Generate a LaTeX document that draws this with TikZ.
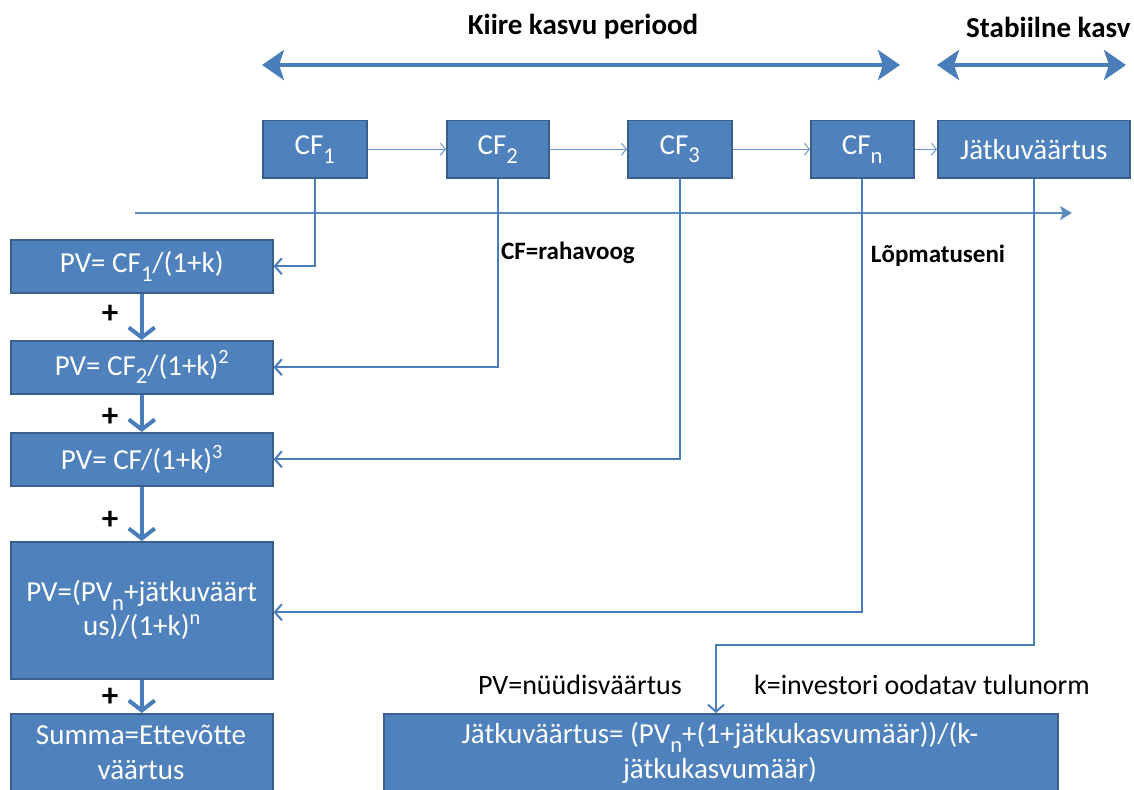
\documentclass[tikz,border=0pt]{standalone}
\usepackage{fontspec}
\setmainfont{Carlito}
\usetikzlibrary{arrows.meta}
\definecolor{boxfill}{HTML}{4F81BD}
\definecolor{boxline}{HTML}{3A5F8B}
\definecolor{linec}{HTML}{4A7EBB}
\newcommand{\fs}[2][35]{\fontsize{#2}{#1}\selectfont}
\newcommand{\sbs}[1]{\raisebox{-0.3em}{\scalebox{0.78}{#1}}}
\newcommand{\sps}[1]{\raisebox{0.38em}{\scalebox{0.7}{#1}}}
\tikzset{
  box/.style={draw=boxline, fill=boxfill, line width=1.5pt, text=white,
    inner sep=0pt, align=center, anchor=north west, font=\fs{29}},
  boxtext/.style={text=white, align=center, inner sep=0pt, font=\fs{29}},
  period/.style={draw=linec, line width=4pt,
    {Stealth[length=22pt,width=30pt,inset=5pt]}-{Stealth[length=22pt,width=30pt,inset=5pt]}},
  sumarrow/.style={draw=linec, line width=4pt,
    -{Straight Barb[length=10pt,width=26pt,line width=4pt]}},
  feed/.style={draw=linec, line width=2pt,
    -{Straight Barb[length=7pt,width=16pt,line width=2pt]}},
  step arrow/.style={draw=linec!80, line width=1pt,
    -{Straight Barb[length=5pt,width=12pt,line width=1pt]}},
  timeline/.style={draw=linec!90, line width=2pt,
    -{Stealth[length=12pt,width=14pt,inset=3pt]}},
  note/.style={inner sep=0pt, text=black, font=\fs{28}},
  notebold/.style={inner sep=0pt, text=black, font=\fs{25}\bfseries},
  plus/.style={inner sep=0pt, text=black, font=\fs{33}\bfseries},
}
\begin{document}
\begin{tikzpicture}[x=1pt,y=-1pt]
\useasboundingbox (0,0) rectangle (1134,789);
\clip (0,0) rectangle (1134,789);
\fill[white] (0,0) rectangle (1134,789);

% period headings and span arrows
\node[inner sep=0pt, font=\fs{29}\bfseries] (tfast) at (583,27) {Kiire kasvu periood};
\node[inner sep=0pt, font=\fs{29}\bfseries, anchor=west] (tstable) at (966,27) {Stabiilne kasv};
\coordinate (pa0) at (262,65);
\coordinate (pa1) at (900,65);
\coordinate (pb0) at (937,65);
\coordinate (pb1) at (1126,65);
\draw[period] (pa0) -- (pa1);
\draw[period] (pb0) -- (pb1);

% cash flow boxes
\node[box, minimum width=104pt, minimum height=57pt] (cf1) at (262,120) {CF\sbs{1}};
\node[box, minimum width=102pt, minimum height=57pt] (cf2) at (446,120) {CF\sbs{2}};
\node[box, minimum width=104pt, minimum height=57pt] (cf3) at (627,120) {CF\sbs{3}};
\node[box, minimum width=103pt, minimum height=57pt] (cfn) at (810,120) {CF\sbs{n}};
\node[box, minimum width=192pt, minimum height=57pt] (jk) at (937,120) {Jätkuväärtus};

\draw[step arrow] (cf1) -- (cf2);
\draw[step arrow] (cf2) -- (cf3);
\draw[step arrow] (cf3) -- (cfn);
\draw[step arrow] (cfn) -- (jk);

% time axis
\coordinate (t0) at (135,213);
\coordinate (t1) at (1072,213);
\draw[timeline] (t0) -- (t1);

% present value boxes
\node[box, minimum width=262pt, minimum height=53pt] (pv1) at (10,239) {PV= CF\sbs{1}/(1+k)};
\node[box, minimum width=262pt, minimum height=53pt] (pv2) at (10,340) {PV= CF\sbs{2}/(1+k)\sps{2}};
\node[box, minimum width=262pt, minimum height=53pt] (pv3) at (10,432) {PV= CF/(1+k)\sps{3}};
\node[box, minimum width=262pt, minimum height=137pt, font={\fontsize{29}{34}\selectfont}] (pv4) at (10,541) {PV=(PV\sbs{n}+jätkuväärt\\us)/(1+k)\sps{n}};
\node[box, minimum width=262pt, minimum height=82pt] (sum) at (10,713) {};
\node[boxtext] (sumt) at (141,752) {Summa=Ettevõtte\\väärtus};

\draw[sumarrow] (pv1) -- (pv2);
\draw[sumarrow] (pv2) -- (pv3);
\draw[sumarrow] (pv3) -- (pv4);
\draw[sumarrow] (pv4) -- (sum);

\node[plus] (p1) at (110,314) {+};
\node[plus] (p2) at (110,417) {+};
\node[plus] (p3) at (110,520) {+};
\node[plus] (p4) at (110,697) {+};

% terminal value formula box
\node[box, minimum width=674pt, minimum height=82pt] (jb) at (383,713) {};
\node[boxtext] (jbt) at (720,753) {Jätkuväärtus= (PV\sbs{n}+(1+jätkukasvumäär))/(k-\\jätkukasvumäär)};

% discounting connectors
\draw[feed] (cf1.south) |- (pv1.east);
\draw[feed] (cf2.south) |- (pv2.east);
\draw[feed] (cf3.south) |- (pv3.east);
\draw[feed] (cfn.south) |- ([yshift=-2pt]pv4.east);
\coordinate (bend) at (716,645);
\draw[feed] (jk.south) |- (bend) -- (jb.north -| bend);

% explanatory notes
\node[notebold] (ncf) at (568,253) {CF=rahavoog};
\node[notebold] (nlo) at (938,256) {Lõpmatuseni};
\node[note] (npv) at (580,685) {PV=nüüdisväärtus};
\node[note] (nk) at (922,685) {k=investori oodatav tulunorm};
\end{tikzpicture}
\end{document}
